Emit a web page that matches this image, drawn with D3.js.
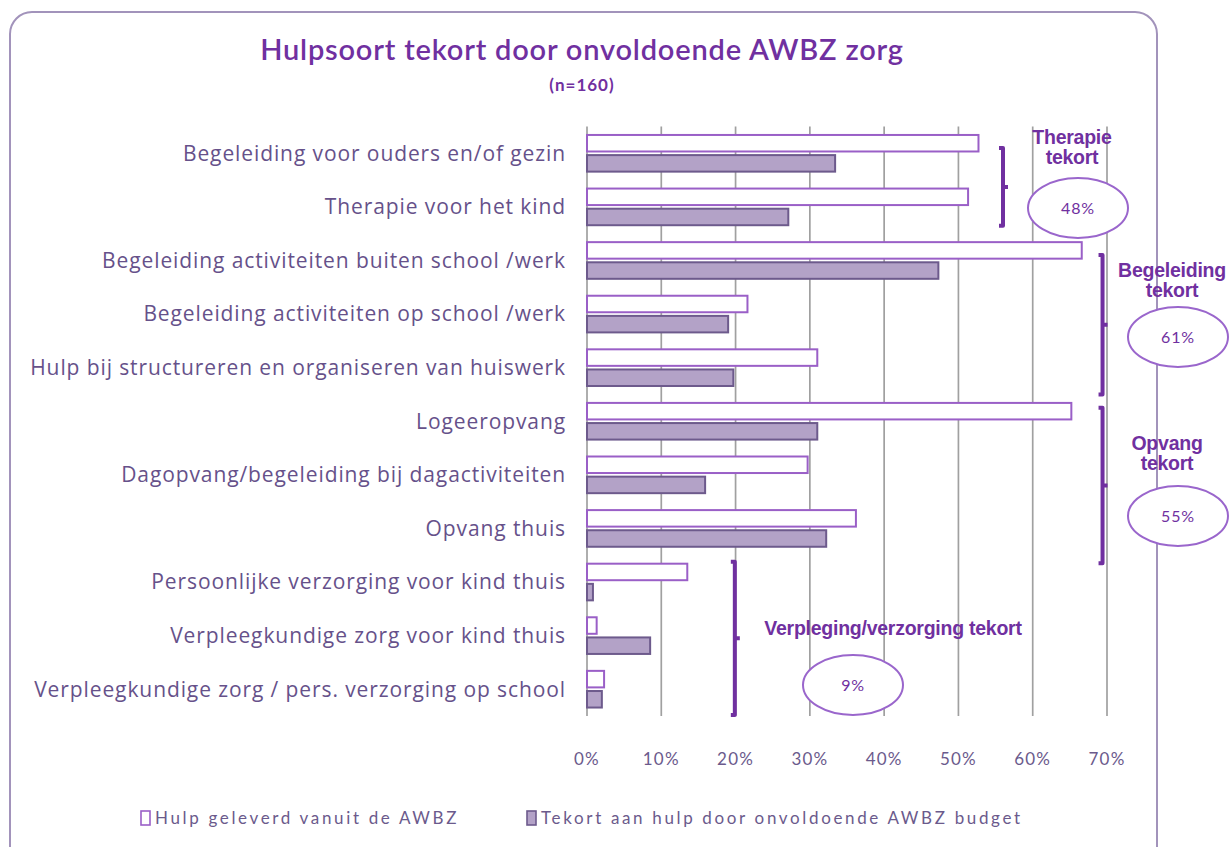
<!DOCTYPE html>
<html>
<head>
<meta charset="utf-8">
<script src="https://cdn.jsdelivr.net/npm/d3@7"></script>
<style>
  body { margin: 0; background: #fff; }
  svg { display: block; }
</style>
</head>
<body>
<div id="chart"></div>
<script>
'use strict';

// Categories (top to bottom)
const categories = [
    'Begeleiding voor ouders en/of gezin',
    'Therapie voor het kind',
    'Begeleiding activiteiten buiten school /werk',
    'Begeleiding activiteiten op school /werk',
    'Hulp bij structureren en organiseren van huiswerk',
    'Logeeropvang',
    'Dagopvang/begeleiding bij dagactiviteiten',
    'Opvang thuis',
    'Persoonlijke verzorging voor kind thuis',
    'Verpleegkundige zorg voor kind thuis',
    'Verpleegkundige zorg / pers. verzorging op school'
];

// Series values (%)
const geleverd = [52.7, 51.3, 66.6, 21.6, 31.0, 65.2, 29.7, 36.2, 13.5, 1.3, 2.3];
const tekort = [33.4, 27.1, 47.3, 19.0, 19.7, 31.0, 15.9, 32.2, 0.8, 8.5, 2.0];

const seriesNames = ['Hulp geleverd vanuit de AWBZ', 'Tekort aan hulp door onvoldoende AWBZ budget'];

// Tick values
const ticks = [0, 10, 20, 30, 40, 50, 60, 70];

// Groups (annotation)
const groupNames = [['Therapie', 'tekort'], ['Begeleiding', 'tekort'], ['Opvang', 'tekort'], ['Verpleging/verzorging tekort']];
const groupPcts = ['48%', '61%', '55%', '9%'];

/*
Layout
*/
const W = 1232, H = 847;
const margin = {top: 126.5, left: 587, right: 125, bottom: 131};
const purple = '#7030a0';

const svg = d3.select('#chart')
    .append('svg')
    .attr('width', W)
    .attr('height', H);

// Outer border
svg.append('rect')
    .attr('x', 10).attr('y', 12)
    .attr('width', 1147).attr('height', 880)
    .attr('rx', 22).attr('ry', 22)
    .attr('fill', 'none')
    .attr('stroke', '#a293bb')
    .attr('stroke-width', 2);

// Title
svg.append('text')
    .attr('x', 582).attr('y', 60)
    .attr('text-anchor', 'middle')
    .attr('fill', purple)
    .style('font-family', 'Lato, sans-serif')
    .style('font-size', '29px')
    .style('font-weight', 600)
    .style('letter-spacing', '0.8px')
    .text('Hulpsoort tekort door onvoldoende AWBZ zorg');

svg.append('text')
    .attr('x', 582).attr('y', 91)
    .attr('text-anchor', 'middle')
    .attr('fill', purple)
    .style('font-family', 'Lato, sans-serif')
    .style('font-size', '17px')
    .style('font-weight', 700)
    .style('letter-spacing', '1px')
    .text('(n=160)');

// Scales
const x = d3.scaleLinear()
    .domain([0, 70])
    .range([margin.left, W - margin.right]);

const y = d3.scaleBand()
    .domain(categories)
    .range([margin.top, H - margin.bottom]);

const sub = d3.scaleBand()
    .domain([0, 1])
    .range([0, y.bandwidth()])
    .paddingInner(0.18)
    .paddingOuter(0.42);

// Gridlines
svg.append('g')
    .selectAll('line')
    .data(ticks)
    .join('line')
    .attr('x1', d => x(d)).attr('x2', d => x(d))
    .attr('y1', margin.top).attr('y2', H - margin.bottom)
    .attr('stroke', '#a0a0a0')
    .attr('stroke-width', 1.7);

// Tick labels
svg.append('g')
    .selectAll('text')
    .data(ticks)
    .join('text')
    .attr('x', d => x(d))
    .attr('y', 765)
    .attr('text-anchor', 'middle')
    .attr('fill', '#6b5a8c')
    .style('font-family', 'Lato, sans-serif')
    .style('font-size', '17px')
    .style('letter-spacing', '1.2px')
    .text(d => d + '%');

// Category labels
svg.append('g')
    .selectAll('text')
    .data(categories)
    .join('text')
    .attr('x', 566)
    .attr('y', d => y(d) + y.bandwidth() / 2)
    .attr('dy', '0.35em')
    .attr('text-anchor', 'end')
    .attr('fill', '#66518a')
    .style('font-family', '"Open Sans", sans-serif')
    .style('font-size', '21px')
    .style('letter-spacing', '0.9px')
    .text(d => d);

// Bars: geleverd
svg.append('g')
    .selectAll('rect')
    .data(geleverd)
    .join('rect')
    .attr('x', x(0))
    .attr('y', (d, i) => y(categories[i]) + sub(0))
    .attr('width', d => x(d) - x(0))
    .attr('height', sub.bandwidth())
    .attr('fill', '#fff')
    .attr('stroke', '#9a5fc7')
    .attr('stroke-width', 2);

// Bars: tekort
svg.append('g')
    .selectAll('rect')
    .data(tekort)
    .join('rect')
    .attr('x', x(0))
    .attr('y', (d, i) => y(categories[i]) + sub(1))
    .attr('width', d => x(d) - x(0))
    .attr('height', sub.bandwidth())
    .attr('fill', '#b3a2c7')
    .attr('stroke', '#6d5a8c')
    .attr('stroke-width', 2);

/*
Annotations: braces, group labels, ellipses
*/
const yc = v => margin.top + v * y.bandwidth();
const braces = [
    {xv: 56.0, from: 0.4, to: 1.85, mid: 1.13},
    {xv: 69.4, from: 2.4, to: 5.0, mid: 3.7},
    {xv: 69.4, from: 5.25, to: 8.15, mid: 6.7},
    {xv: 19.9, from: 8.12, to: 10.98, mid: 9.55}
];
const labelPos = [
    {x: 1072, y: 137}, {x: 1172, y: 270}, {x: 1167, y: 443}, {x: 893, y: 628}
];
const ellPos = [
    {x: 1078, y: 208}, {x: 1178, y: 337}, {x: 1178, y: 516}, {x: 853, y: 685}
];

const br = svg.append('g');
braces.forEach(b => {
    const bx = x(b.xv), y0 = yc(b.from), y1 = yc(b.to), ym = yc(b.mid);
    br.append('path')
        .attr('d', `M${bx - 4},${y0} L${bx},${y0} L${bx},${y1} L${bx - 4},${y1} M${bx},${ym} L${bx + 5},${ym}`)
        .attr('fill', 'none')
        .attr('stroke', purple)
        .attr('stroke-width', 4)
        .attr('stroke-linejoin', 'round');
});

groupNames.forEach((lines, i) => {
    const t = svg.append('text')
        .attr('x', labelPos[i].x).attr('y', labelPos[i].y)
        .attr('text-anchor', 'middle')
        .attr('fill', purple)
        .style('font-family', '"Liberation Sans Narrow", "Liberation Sans", Arial, sans-serif')
        .style('font-size', '19.5px')
        .style('font-weight', 700)
        .style('letter-spacing', '-0.25px');
    lines.forEach((l, j) => {
        t.append('tspan')
            .attr('x', labelPos[i].x)
            .attr('dy', j === 0 ? '0.35em' : '20')
            .text(l);
    });
});

groupPcts.forEach((p, i) => {
    svg.append('ellipse')
        .attr('cx', ellPos[i].x).attr('cy', ellPos[i].y)
        .attr('rx', 50).attr('ry', 30)
        .attr('fill', '#fff')
        .attr('stroke', '#9a66cc')
        .attr('stroke-width', 2);
    svg.append('text')
        .attr('x', ellPos[i].x).attr('y', ellPos[i].y)
        .attr('dy', '0.35em')
        .attr('text-anchor', 'middle')
        .attr('fill', purple)
        .style('font-family', 'Lato, sans-serif')
        .style('font-size', '16px')
        .style('letter-spacing', '0.8px')
        .text(p);
});

/*
Legend
*/
const legX = [141, 527];
const legend = svg.append('g');
seriesNames.forEach((n, i) => {
    legend.append('rect')
        .attr('x', legX[i]).attr('y', 811)
        .attr('width', 9).attr('height', 14)
        .attr('fill', i === 0 ? '#fff' : '#b3a2c7')
        .attr('stroke', i === 0 ? '#9a5fc7' : '#6d5a8c')
        .attr('stroke-width', 1.6);
    legend.append('text')
        .attr('x', legX[i] + 14).attr('y', 818)
        .attr('dy', '0.35em')
        .attr('fill', '#6b5a8c')
        .style('font-family', 'Lato, sans-serif')
        .style('font-size', '17px')
        .style('letter-spacing', '2.65px')
        .text(n);
});
</script>
</body>
</html>
